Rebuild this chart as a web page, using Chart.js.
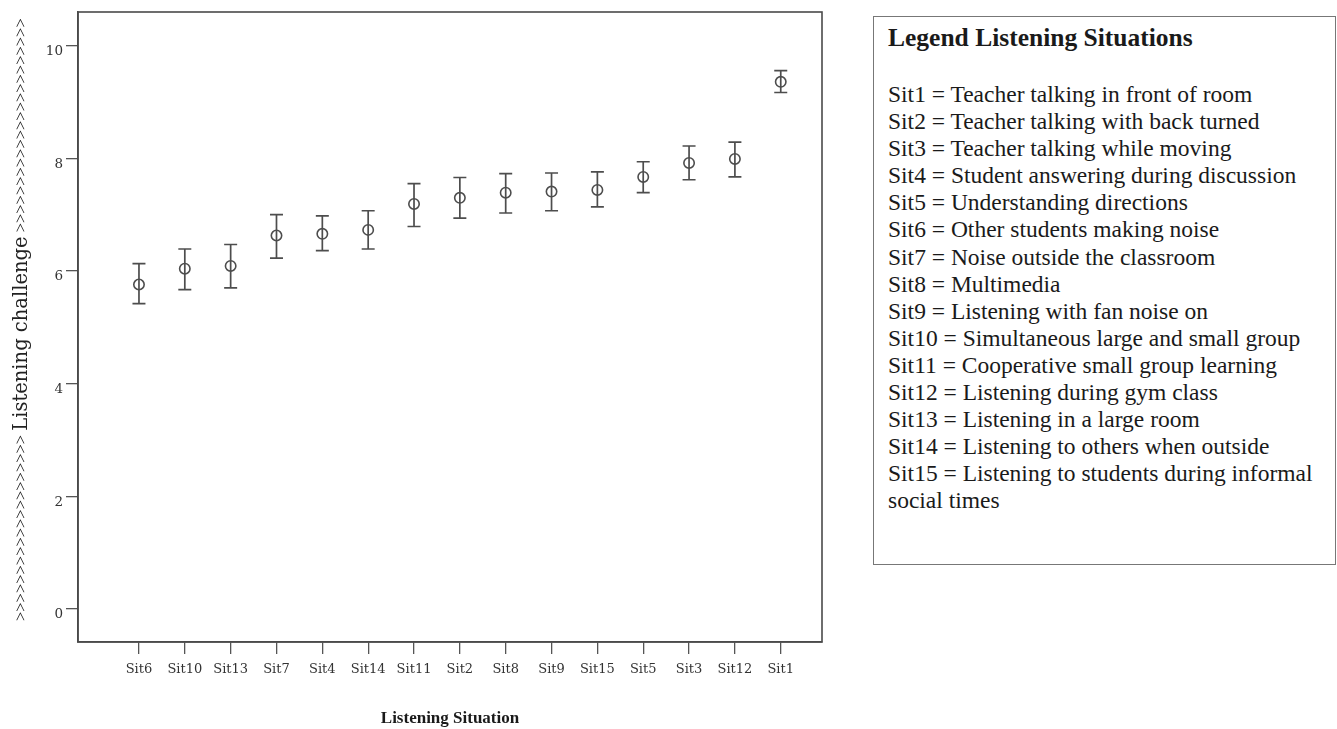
<!DOCTYPE html>
<html>
<head>
<meta charset="utf-8">
<script src="https://cdn.jsdelivr.net/npm/chart.js@4/dist/chart.umd.min.js"></script>
<style>
  body { margin: 0; background: #fff; width: 1337px; height: 729px; overflow: hidden; position: relative; }
  #wrap { position: absolute; left: 0; top: 0; width: 860px; height: 733px; }
  #legendBox {
    position: absolute; left: 873px; top: 16px; width: 463px; height: 549px;
    border: 1.5px solid #777; box-sizing: border-box;
    font-family: "Liberation Serif", "Times New Roman", serif; color: #1a1a1a;
    padding: 6px 0 0 14px;
  }
  #legendBox h3 { margin: 0 0 28px 0; font-size: 25.5px; font-weight: bold; line-height: 30px; }
  #legendBox div { font-size: 23.5px; line-height: 27.1px; }
</style>
</head>
<body>
<div id="wrap"><canvas id="chart" width="860" height="733"></canvas></div>
<div id="legendBox">
  <h3>Legend Listening Situations</h3>
  <div id="legendLines"></div>
</div>
<script>
// situations in plotted order
const sitLabels = ['Sit6', 'Sit10', 'Sit13', 'Sit7', 'Sit4', 'Sit14', 'Sit11', 'Sit2', 'Sit8', 'Sit9', 'Sit15', 'Sit5', 'Sit3', 'Sit12', 'Sit1'];
const means = [5.76, 6.04, 6.09, 6.63, 6.66, 6.73, 7.19, 7.30, 7.39, 7.41, 7.44, 7.67, 7.92, 7.99, 9.36];
const lower = [5.42, 5.67, 5.70, 6.23, 6.36, 6.39, 6.79, 6.94, 7.03, 7.07, 7.14, 7.39, 7.62, 7.67, 9.17];
const upper = [6.13, 6.39, 6.47, 7.00, 6.98, 7.07, 7.55, 7.66, 7.73, 7.74, 7.76, 7.94, 8.22, 8.29, 9.56];
const yTicks = [0, 2, 4, 6, 8, 10];

const legendText = [
  'Sit1 = Teacher talking in front of room',
  'Sit2 = Teacher talking with back turned',
  'Sit3 = Teacher talking while moving',
  'Sit4 = Student answering during discussion',
  'Sit5 = Understanding directions',
  'Sit6 = Other students making noise',
  'Sit7 = Noise outside the classroom',
  'Sit8 = Multimedia',
  'Sit9 = Listening with fan noise on',
  'Sit10 = Simultaneous large and small group',
  'Sit11 = Cooperative small group learning',
  'Sit12 = Listening during gym class',
  'Sit13 = Listening in a large room',
  'Sit14 = Listening to others when outside',
  'Sit15 = Listening to students during informal social times'
];

let lines = document.getElementById('legendLines');
for (let i = 0; i < legendText.length; i++) {
  let d = document.createElement('div');
  d.textContent = legendText[i];
  lines.appendChild(d);
}

let points = [];
for (let i = 0; i < sitLabels.length; i++) {
  points.push({ x: i + 1, y: means[i] });
}

const serif = '"Liberation Serif", "Times New Roman", serif';
const slab = '"DejaVu Serif", serif';

const errorBars = {
  id: 'errorBars',
  afterDatasetsDraw(chart) {
    let ctx = chart.ctx;
    let xs = chart.scales.x, ys = chart.scales.y;
    ctx.save();
    ctx.strokeStyle = '#4d4d4d';
    ctx.lineWidth = 1.7;
    for (let i = 0; i < means.length; i++) {
      let px = xs.getPixelForValue(i + 1);
      let top = ys.getPixelForValue(upper[i]);
      let bot = ys.getPixelForValue(lower[i]);
      ctx.beginPath();
      ctx.moveTo(px, top); ctx.lineTo(px, bot);
      ctx.moveTo(px - 6.5, top); ctx.lineTo(px + 6.5, top);
      ctx.moveTo(px - 6.5, bot); ctx.lineTo(px + 6.5, bot);
      ctx.stroke();
    }
    // frame round the plot area
    let a = chart.chartArea;
    ctx.strokeStyle = '#4a4a4a';
    ctx.lineWidth = 1.6;
    ctx.strokeRect(a.left, a.top, a.right - a.left, a.bottom - a.top);
    ctx.restore();
  }
};

// y title: arrows in a narrow face, words in a wider one, read bottom to top
const yTitle = {
  id: 'yTitle',
  afterDraw(chart) {
    let ctx = chart.ctx;
    let parts = [
      { t: '>'.repeat(20) + ' ', f: '16.5px ' + serif },
      { t: 'Listening challenge', f: '19.5px ' + slab },
      { t: ' ' + '>'.repeat(23), f: '16.5px ' + serif }
    ];
    ctx.save();
    ctx.translate(22, 621);
    ctx.rotate(-Math.PI / 2);
    ctx.fillStyle = '#222';
    ctx.textBaseline = 'middle';
    ctx.textAlign = 'left';
    let x = 0;
    for (let p of parts) {
      ctx.font = p.f;
      ctx.fillText(p.t, x, 0);
      x += ctx.measureText(p.t).width;
    }
    ctx.restore();
  }
};

new Chart(document.getElementById('chart'), {
  type: 'scatter',
  data: {
    datasets: [{
      data: points,
      borderColor: '#4d4d4d',
      backgroundColor: 'rgba(0,0,0,0)',
      pointRadius: 5.2,
      pointBorderWidth: 1.6,
      pointHoverRadius: 5.2
    }]
  },
  plugins: [errorBars, yTitle],
  options: {
    responsive: false,
    animation: false,
    layout: { padding: { left: 0, top: 12, right: 38, bottom: 0 } },
    plugins: { legend: { display: false }, tooltip: { enabled: false } },
    scales: {
      x: {
        type: 'linear',
        min: -0.33,
        max: 15.9,
        afterBuildTicks: (axis) => { axis.ticks = sitLabels.map((s, i) => ({ value: i + 1 })); },
        afterFit: (axis) => { axis.height = 91; },
        grid: { drawOnChartArea: false, tickLength: 12, color: '#555', lineWidth: 1.3 },
        border: { color: '#4a4a4a', width: 1.6 },
        ticks: {
          autoSkip: false,
          maxRotation: 0,
          padding: 8,
          color: '#333',
          font: { family: slab, size: 13 },
          callback: (v) => sitLabels[Math.round(v) - 1]
        },
        title: {
          display: true,
          text: 'Listening Situation',
          color: '#1a1a1a',
          font: { family: serif, size: 17, weight: 'bold' },
          padding: { top: 0, bottom: 4 }
        }
      },
      y: {
        min: -0.59,
        max: 10.6,
        afterBuildTicks: (axis) => { axis.ticks = yTicks.map(v => ({ value: v })); },
        afterFit: (axis) => { axis.width = 78; },
        grid: { drawOnChartArea: false, tickLength: 12, color: '#555', lineWidth: 1.3 },
        border: { color: '#4a4a4a', width: 1.6 },
        ticks: {
          padding: 3,
          labelOffset: 6,
          color: '#333',
          font: { family: slab, size: 13.5 }
        }
      }
    }
  }
});
</script>
</body>
</html>
